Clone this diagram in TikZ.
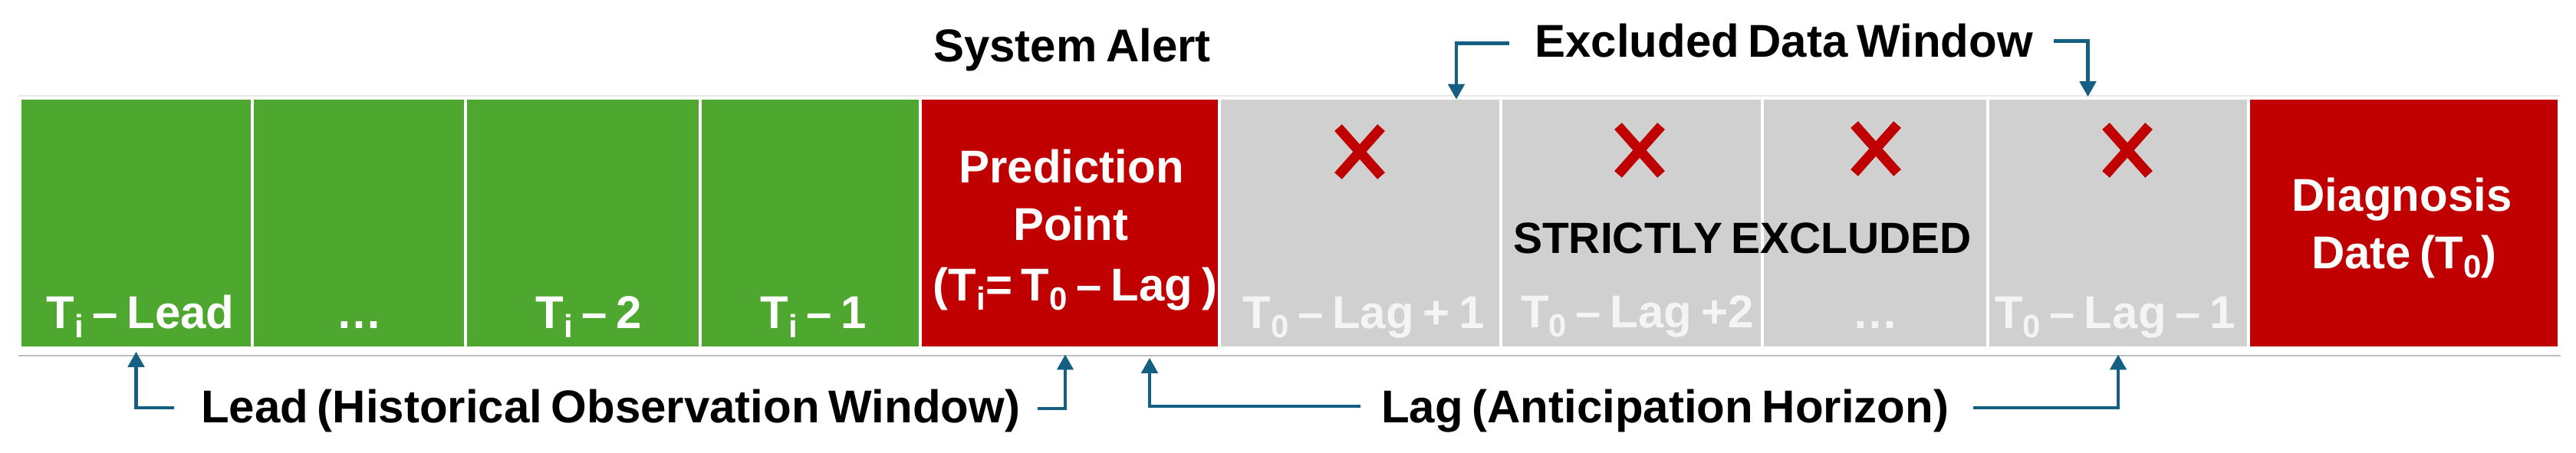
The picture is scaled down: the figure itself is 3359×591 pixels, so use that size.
\documentclass[tikz,border=0pt]{standalone}
\usepackage{fontspec}
\setmainfont{Liberation Sans}[WordSpace=0.7]
\usetikzlibrary{arrows.meta}
\definecolor{cgreen}{HTML}{4EA72E}
\definecolor{cred}{HTML}{C00000}
\definecolor{cgray}{HTML}{D0D0D0}
\definecolor{carrow}{HTML}{156082}
\definecolor{ctxtgray}{HTML}{F4F4F4}
\newcommand\sbs[1]{\raisebox{-12pt}{\fontsize{42}{42}\selectfont #1}}
\begin{document}
\begin{tikzpicture}[x=1pt,y=-1pt,
  cell/.style={draw=white,line width=3.5pt,inner sep=0pt,minimum height=326pt},
  lbl/.style={font=\fontsize{60}{72}\selectfont\bfseries,inner sep=0pt,anchor=base},
  wlbl/.style={lbl,text=white},
  glbl/.style={lbl,text=ctxtgray},
  arr/.style={draw=carrow,line width=4.5pt,-{Triangle[width=21pt,length=20pt]}},
  xmark/.style={draw=cred,line width=13pt},
  xpic/.pic={\draw[xmark] (-28,-31.5) -- (28,31.5) (28,-31.5) -- (-28,31.5);}]
\useasboundingbox (0,0) rectangle (3359,591);
% rules
\draw[line width=1.5pt,color=black!9] (24,125) -- (3339,125);
\draw[line width=2pt,color=black!25] (24,463.5) -- (3339,463.5);
% cells
\node[cell,fill=cgreen,minimum width=303pt] (c1) at (177.5,291) {};
\node[cell,fill=cgreen,minimum width=278pt] (c2) at (468,291) {};
\node[cell,fill=cgreen,minimum width=306pt] (c3) at (760,291) {};
\node[cell,fill=cgreen,minimum width=287pt] (c4) at (1056.5,291) {};
\node[cell,fill=cred,minimum width=390pt] (c5) at (1395,291) {};
\node[cell,fill=cgray,minimum width=367pt] (c6) at (1773.5,291) {};
\node[cell,fill=cgray,minimum width=341pt] (c7) at (2127.5,291) {};
\node[cell,fill=cgray,minimum width=294pt] (c8) at (2445,291) {};
\node[cell,fill=cgray,minimum width=340pt] (c9) at (2762,291) {};
\node[cell,fill=cred,minimum width=405pt] (c10) at (3134.5,291) {};
% crosses
\pic at (1773,198) {xpic};
\pic at (2138,196) {xpic};
\pic at (2446,194) {xpic};
\pic at (2774,196) {xpic};
% cell texts
\node[wlbl] (t1) at (183,428) {T\sbs{i} – Lead};
\node[wlbl] (t2) at (468,428) {…};
\node[wlbl] (t3) at (768,428) {T\sbs{i} – 2};
\node[wlbl] (t4) at (1061,428) {T\sbs{i} – 1};
\node[wlbl] (p1) at (1397,238) {Prediction};
\node[wlbl] (p2) at (1396,313) {Point};
\node[wlbl] (p3) at (1402,392) {(T\sbs{i}= T\sbs{0} – Lag )};
\node[glbl] (t6) at (1778,428) {T\sbs{0} – Lag + 1};
\node[glbl] (t7) at (2135,427) {T\sbs{0} – Lag +2};
\node[glbl] (t8) at (2445,428) {…};
\node[glbl] (t9) at (2758,428) {T\sbs{0} – Lag – 1};
\node[wlbl] (d1) at (3132,275) {Diagnosis};
\node[wlbl] (d2) at (3135,350) {Date (T\sbs{0})};
\node[lbl,font=\fontsize{57}{68}\selectfont\bfseries] (strict) at (2272,330) {STRICTLY EXCLUDED};
% outside labels
\node[lbl] (alert) at (1398,81) {System Alert};
\node[lbl] (excl) at (2326,75) {Excluded Data Window};
\node[lbl] (leadlbl) at (796,551) {Lead (Historical Observation Window)};
\node[lbl] (laglbl) at (2171,551) {Lag (Anticipation Horizon)};
% connectors
\coordinate (la) at (227,532);
\coordinate (lb) at (1353,533);
\coordinate (lc) at (1774,530);
\coordinate (ld) at (2573,532);
\coordinate (ea) at (1968,56.5);
\coordinate (eb) at (2678,53.3);
\draw[arr,shorten >=3pt] (la) -| (c1.south);
\draw[arr,shorten >=6.7pt] (lb) -| ([xshift=-6pt]c5.south);
\draw[arr,shorten >=11pt] (lc) -| ([xshift=104pt]c5.south);
\draw[arr,shorten >=6.7pt] (ld) -| (c9.south);
\draw[arr,shorten >=-3.5pt] (ea) -| ([xshift=125.5pt]c6.north);
\draw[arr] (eb) -| ([xshift=-39.5pt]c9.north);
\end{tikzpicture}
\end{document}
